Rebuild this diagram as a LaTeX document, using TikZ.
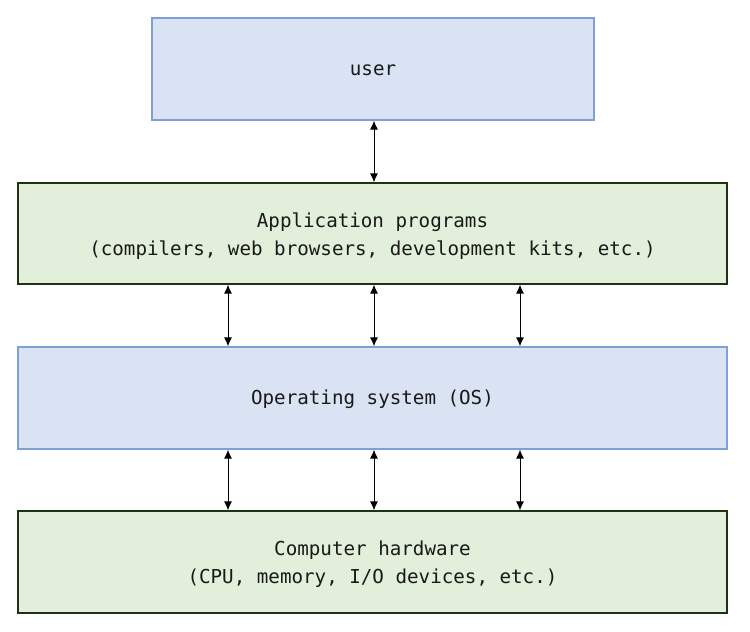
\documentclass[tikz,border=0pt]{standalone}
\usepackage{fontspec}
\setmonofont{DejaVu Sans Mono}
\usetikzlibrary{arrows.meta}
\definecolor{bluefill}{HTML}{DAE3F3}
\definecolor{blueline}{HTML}{7F9FD6}
\definecolor{greenfill}{HTML}{E2EFDA}
\definecolor{greenline}{HTML}{1E3312}
\tikzset{
  bluebox/.style={draw=blueline, fill=bluefill, line width=1.2bp},
  greenbox/.style={draw=greenline, fill=greenfill, line width=1.2bp},
  lbl/.style={font=\fontsize{19.2bp}{28bp}\selectfont\ttfamily, align=center, text=black!90},
  biarrow/.style={{Latex[length=9bp,width=8bp]}-{Latex[length=9bp,width=8bp]}, line width=1bp, black}
}
\begin{document}
\begin{tikzpicture}[x=1bp,y=-1bp]
\useasboundingbox (0,0) rectangle (750,632);
\node[bluebox, minimum width=442bp, minimum height=102bp] (user) at (373,69) {};
\node[greenbox, minimum width=709bp, minimum height=101bp] (app) at (372.5,233.5) {};
\node[bluebox, minimum width=709bp, minimum height=102bp] (os) at (372.5,398) {};
\node[greenbox, minimum width=709bp, minimum height=102bp] (hw) at (372.5,562) {};
\node[lbl] (tuser) at ([yshift=-1.5bp]user.center) {user};
\node[lbl] (tapp) at ([yshift=-2.5bp]app.center) {Application programs\\(compilers, web browsers, development kits, etc.)};
\node[lbl] (tos) at ([yshift=-1.5bp]os.center) {Operating system (OS)};
\node[lbl] (thw) at ([yshift=-2.5bp]hw.center) {Computer hardware\\(CPU, memory, I/O devices, etc.)};
\coordinate (u1) at (374,120.6);
\coordinate (a1) at (374,182.4);
\draw[biarrow] (u1) -- (a1);
\foreach \xx/\nm in {228/l,374/m,520/r}{
  \coordinate (ab\nm) at (\xx,284.6);
  \coordinate (ot\nm) at (\xx,346.4);
  \coordinate (ob\nm) at (\xx,449.6);
  \coordinate (ht\nm) at (\xx,510.4);
  \draw[biarrow] (ab\nm) -- (ot\nm);
  \draw[biarrow] (ob\nm) -- (ht\nm);
}
\end{tikzpicture}
\end{document}
